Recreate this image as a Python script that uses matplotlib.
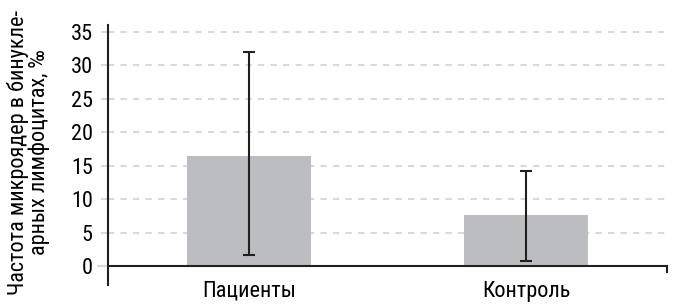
import matplotlib
matplotlib.use('Agg')
import matplotlib.pyplot as plt

plt.rcParams['font.family'] = ['Roboto Condensed', 'PT Sans Narrow', 'Archivo Narrow',
                               'Liberation Sans', 'DejaVu Sans']

# data
groups = ['Пациенты', 'Контроль']
means = [16.4, 7.6]
err_low = [14.7, 6.75]
err_high = [15.6, 6.6]
yticks = [0, 5, 10, 15, 20, 25, 30, 35]

fig = plt.figure(figsize=(6.83, 3.06), dpi=100)
ax = fig.add_axes([0.1581, 0.0686, 0.8185, 0.8497])

x = list(range(len(groups)))
ax.bar(x, means, width=0.448, color='#bcbdc1', zorder=2)
ax.errorbar(x, means, yerr=[err_low, err_high], fmt='none', ecolor='#231f20',
            elinewidth=1.5, capsize=4, capthick=1.5, zorder=3)

ax.set_xlim(-0.509, 1.509)
ax.set_ylim(-2.8, 36)

# dashed grid
for v in yticks[1:]:
    ax.axhline(v, color='#d9d9d9', lw=1.5, ls=(0, (3, 3)), zorder=1)

# x axis line at zero with small end tick
ax.axhline(0, color='#231f20', lw=1.5, zorder=4)
ax.plot([1.509, 1.509], [0, -0.9], color='#231f20', lw=1.5, clip_on=False, zorder=4)

for s in ['top', 'right', 'bottom']:
    ax.spines[s].set_visible(False)
ax.spines['left'].set_linewidth(1.5)
ax.spines['left'].set_color('#231f20')

ax.set_yticks(yticks)
ax.set_yticklabels([str(v) for v in yticks], fontsize=16)
ax.tick_params(axis='y', length=5, width=1.5, color='#d9d9d9', pad=6)
t0 = ax.yaxis.get_major_ticks()[0]
t0.tick1line.set_color('#231f20')
t0.tick1line.set_markersize(8)

ax.set_xticks(x)
ax.set_xticklabels(groups, fontsize=16)
ax.tick_params(axis='x', length=0, pad=-3)

ax.set_ylabel('Частота микроядер в бинукле-\nарных лимфоцитах, ‰', fontsize=16,
              linespacing=0.95)
ax.yaxis.set_label_coords(-0.104, 0.51)

fig.savefig('out.png', dpi=100)
